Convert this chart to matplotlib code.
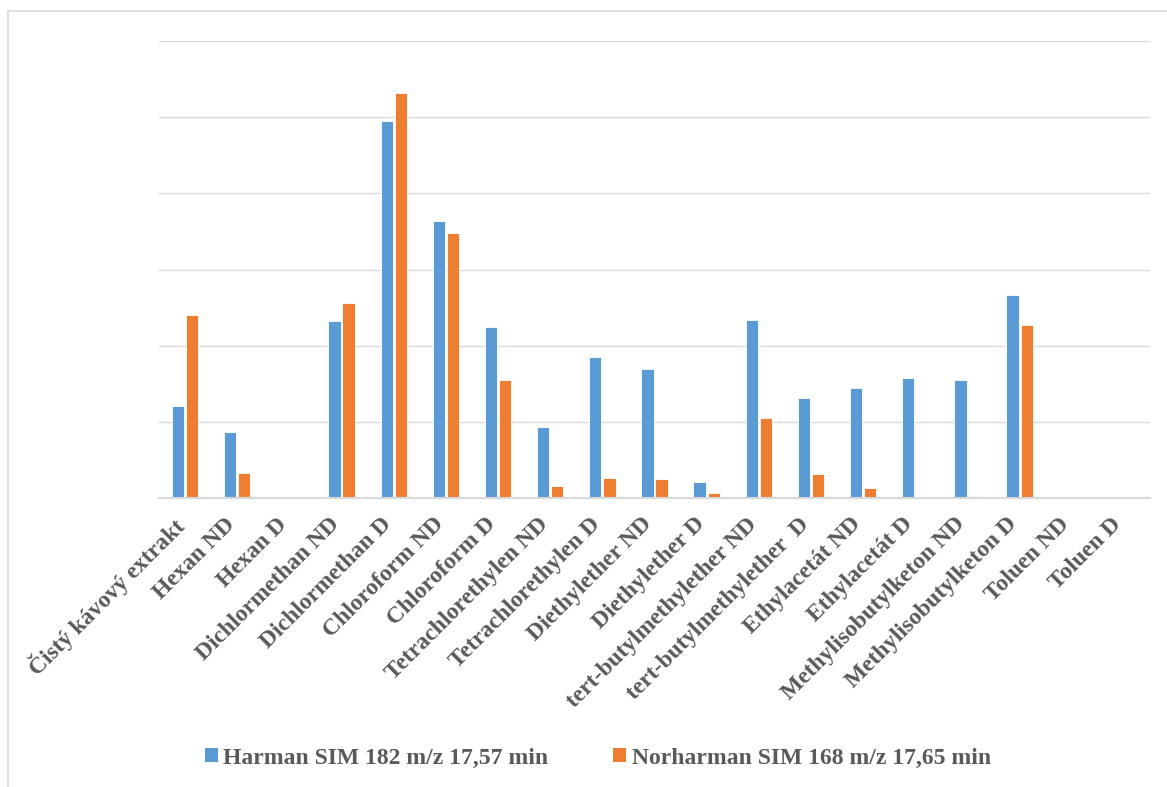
import numpy as np
import matplotlib
matplotlib.use("Agg")
import matplotlib.pyplot as plt
from matplotlib.patches import Patch
from matplotlib.lines import Line2D
import matplotlib.transforms as mtransforms

categories = [
    "Čistý kávový extrakt", "Hexan ND", "Hexan D", "Dichlormethan ND",
    "Dichlormethan D", "Chloroform ND", "Chloroform D", "Tetrachlorethylen ND",
    "Tetrachlorethylen D", "Diethylether ND", "Diethylether D",
    "tert-butylmethylether ND", "tert-butylmethylether  D", "Ethylacetát ND",
    "Ethylacetát D", "Methylisobutylketon ND", "Methylisobutylketon D",
    "Toluen ND", "Toluen D",
]
harman = [1.21, 0.87, 0.0, 2.32, 4.95, 3.64, 2.25, 0.93, 1.85, 1.69, 0.21,
          2.34, 1.31, 1.44, 1.58, 1.55, 2.67, 0.0, 0.0]
norharman = [2.40, 0.33, 0.02, 2.56, 5.32, 3.48, 1.55, 0.16, 0.26, 0.25, 0.07,
             1.05, 0.32, 0.14, 0.0, 0.035, 2.27, 0.0, 0.0]
series_names = ["Harman SIM 182 m/z 17,57 min", "Norharman SIM 168 m/z 17,65 min"]

BLUE = "#5B9BD5"
ORANGE = "#ED7D31"
TEXT = "#595959"
GRID = "#D9D9D9"
FONT = "Liberation Serif"

W, H = 1167, 787
fig = plt.figure(figsize=(W / 100, H / 100), dpi=100)

# chart frame
fig.add_artist(Line2D([8 / W, 1.0], [1 - 11 / H, 1 - 11 / H], color=GRID, lw=1.2,
                      transform=fig.transFigure))
fig.add_artist(Line2D([8 / W, 8 / W], [0.0, 1 - 11 / H], color=GRID, lw=1.2,
                      transform=fig.transFigure))

left, right = 159 / W, 1150 / W
bottom, top = 1 - 498.3 / H, 1 - 40.7 / H
ax = fig.add_axes([left, bottom, right - left, top - bottom])

x = np.arange(len(categories))
bw = 0.235
ax.bar(x - 0.135, harman, width=bw, color=BLUE, edgecolor="white", linewidth=0.6,
       zorder=3)
ax.bar(x + 0.135, norharman, width=bw, color=ORANGE, edgecolor="white", linewidth=0.6,
       zorder=3)

ax.set_xlim(-0.5, len(categories) - 0.5)
ax.set_ylim(0, 6)
ax.set_yticks(np.arange(0, 7, 1))
ax.set_yticklabels([])
ax.tick_params(axis="y", length=0)
ax.grid(axis="y", color=GRID, linewidth=1.0, zorder=0)
for s in ["top", "right", "left"]:
    ax.spines[s].set_visible(False)
ax.spines["bottom"].set_color(GRID)
ax.spines["bottom"].set_linewidth(1.5)
ax.spines["bottom"].set_zorder(4)

ax.set_xticks(x)
ax.set_xticklabels(categories, rotation=45, ha="right", va="top",
                   rotation_mode="anchor", fontsize=17, fontweight="bold",
                   family=FONT, color=TEXT)
ax.tick_params(axis="x", length=0, pad=11)
shift = mtransforms.ScaledTranslation(-13 / 100, 0, fig.dpi_scale_trans)
for lbl in ax.get_xticklabels():
    lbl.set_transform(lbl.get_transform() + shift)

handles = [Patch(facecolor=BLUE, edgecolor="none"),
           Patch(facecolor=ORANGE, edgecolor="none")]
fig.legend(handles, series_names, loc="center", bbox_to_anchor=(598 / W, 1 - 758 / H),
           ncol=2, frameon=False, handlelength=0.55, handleheight=0.55,
           handletextpad=0.25, columnspacing=2.75,
           prop={"family": FONT, "weight": "bold", "size": 17},
           labelcolor=TEXT)

fig.savefig("out.png", dpi=100)
